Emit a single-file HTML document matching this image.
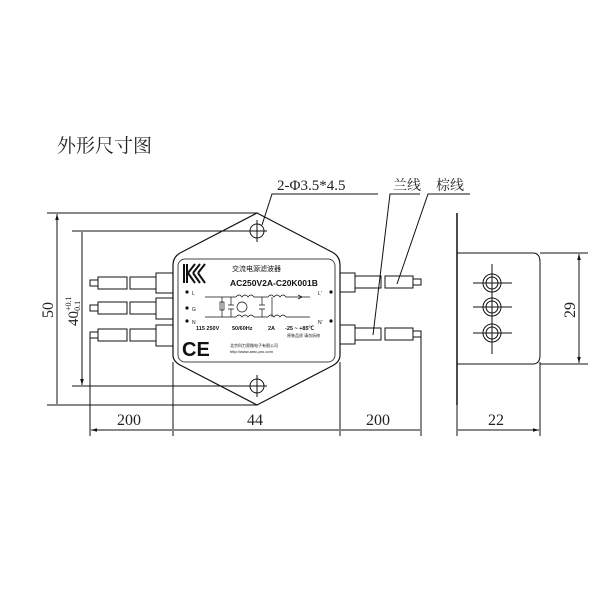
<!DOCTYPE html>
<html><head><meta charset="utf-8"><style>
html,body{margin:0;padding:0;background:#fff;}
svg{display:block}
.t{font-family:"Liberation Serif","Noto Serif CJK SC",serif;fill:#222}
.s{font-family:"Liberation Sans","Noto Sans CJK SC",sans-serif;fill:#111}
</style></head><body>
<svg width="600" height="600" viewBox="0 0 600 600" xmlns="http://www.w3.org/2000/svg">
<defs>
<marker id="a" viewBox="0 0 10 10" refX="10" refY="5" markerWidth="8" markerHeight="6" orient="auto-start-reverse"><path d="M0,2 L10,5 L0,8 z" fill="#111"/></marker>
</defs>
<g stroke="#111" fill="none" stroke-width="1">
<text x="57" y="152" class="t" font-size="19" stroke="none">外形尺寸图</text>
<path d="M257,213 L182,252 Q173,256 173,265 L173,355 Q173,362 182,366 L257,405 L332,366 Q340,362 340,355 L340,265 Q340,256 332,252 Z" stroke-width="1.2"/>
<rect x="178" y="259" width="157" height="103" rx="7" stroke="#444"/>
<circle cx="257" cy="231" r="7"/><path d="M257,220V242M247,231H267"/>
<circle cx="257" cy="386" r="7"/><path d="M257,375V397M247,386H267"/>
<g>
<rect x="156" y="273" width="17" height="20"/><rect x="130" y="277" width="26" height="12"/><rect x="98" y="277" width="29" height="12"/><rect x="90" y="280" width="8" height="6"/>
<rect x="156" y="298" width="17" height="21"/><rect x="130" y="302" width="26" height="12"/><rect x="98" y="302" width="29" height="12"/><rect x="90" y="305" width="8" height="6"/>
<rect x="156" y="325" width="17" height="21"/><rect x="130" y="329" width="26" height="12"/><rect x="98" y="329" width="29" height="12"/><rect x="90" y="332" width="8" height="6"/>
</g>
<rect x="340" y="273" width="15" height="19"/><rect x="355" y="276" width="26" height="12"/><rect x="385" y="276" width="28" height="12"/><rect x="413" y="279" width="8" height="6"/>
<rect x="340" y="325" width="15" height="19"/><rect x="355" y="328" width="26" height="12"/><rect x="385" y="328" width="28" height="12"/><rect x="413" y="331" width="8" height="6"/>
<path d="M47,213H258M47,405H258M72,231H248M72,386H248"/>
<path d="M57,214V404M82,232V385" marker-start="url(#a)" marker-end="url(#a)"/>
<text x="0" y="0" class="t" font-size="16" stroke="none" transform="translate(53,318) rotate(-90)">50</text>
<text x="0" y="0" class="t" font-size="15" stroke="none" transform="translate(78,326) rotate(-90)">40<tspan font-size="8" dy="-7">+0.1</tspan><tspan font-size="8" dx="-17" dy="9">-0.1</tspan></text>
<path d="M90,338V436M173,362V436M340,362V436M421,334V436M457,364V436M540,362V436"/>
<path d="M91,430H172M174,430H339M341,430H420M458,430H539" marker-start="url(#a)" marker-end="url(#a)"/>
<text x="117" y="425" class="t" font-size="16" stroke="none">200</text>
<text x="247" y="425" class="t" font-size="16" stroke="none">44</text>
<text x="366" y="425" class="t" font-size="16" stroke="none">200</text>
<text x="488" y="425" class="t" font-size="16" stroke="none">22</text>
<path d="M378,194H272L262,225"/>
<text x="277" y="190" class="t" font-size="15" stroke="none">2-Φ3.5*4.5</text>
<path d="M420,194H390L373,335"/>
<text x="393" y="190" class="t" font-size="14" stroke="none">兰线</text>
<path d="M470,194H428L397,284"/>
<text x="436" y="190" class="t" font-size="14" stroke="none">棕线</text>
<path d="M457,213V405" stroke-width="1.5"/>
<path d="M457,253H533Q540,253 540,262V355Q540,364 533,364H457"/>
<path d="M540,253H588M540,364H588"/>
<path d="M579,254V363" marker-start="url(#a)" marker-end="url(#a)"/>
<text x="0" y="0" class="t" font-size="16" stroke="none" transform="translate(575,318) rotate(-90)">29</text>
<g>
<circle cx="492" cy="283" r="9"/><circle cx="492" cy="283" r="6"/><path d="M473,283H512M492,264V300"/>
<circle cx="492" cy="307" r="9"/><circle cx="492" cy="307" r="6"/><path d="M473,307H512M492,296V318"/>
<circle cx="492" cy="333" r="9"/><circle cx="492" cy="333" r="6"/><path d="M473,333H512M492,318V354"/>
</g>
<path d="M184,264V283M187,264V283M188,273L195,264M188,273L195,283M193,273L200,264M193,273L200,283M198,273L205,264M198,273L205,283" stroke-width="2"/>
<text x="232" y="271" class="s" font-size="7" stroke="none">交流电源滤波器</text>
<text x="230" y="286" class="s" font-size="8.5" font-weight="bold" stroke="none">AC250V2A-C20K001B</text>
<g fill="#111" stroke="none">
<circle cx="187" cy="292" r="1.6"/><circle cx="187" cy="308" r="1.6"/><circle cx="187" cy="321" r="1.6"/>
<circle cx="331" cy="292" r="1.6"/><circle cx="331" cy="321" r="1.6"/>
<text x="192" y="295" class="s" font-size="5">L</text><text x="192" y="311" class="s" font-size="5">G</text><text x="192" y="324" class="s" font-size="5">N</text>
<text x="318" y="295" class="s" font-size="5">L'</text><text x="318" y="324" class="s" font-size="5">N'</text>
<text x="196" y="330" class="s" font-size="5.5" font-weight="bold">115 250V</text>
<text x="232" y="330" class="s" font-size="5.5" font-weight="bold">50/60Hz</text>
<text x="268" y="330" class="s" font-size="5.5" font-weight="bold">2A</text>
<text x="285" y="330" class="s" font-size="5.5" font-weight="bold">-25 ~ +85℃</text>
<text x="287" y="337" class="s" font-size="4">原装品质 请勿拆修</text>
<text x="230" y="347" class="s" font-size="4">北京科力恩微电子有限公司</text>
<text x="230" y="353" class="s" font-size="4">http://www.amc-pro.com</text>
<text x="182" y="356" class="s" font-size="20" font-weight="bold">CE</text>
</g>
<g stroke-width="0.7">
<path d="M205,297H236M205,317H236M254,297H268M254,317H268M286,297H310M286,317H310"/>
<path d="M236,297q3,-4 6,0q3,-4 6,0q3,-4 6,0M236,317q3,-4 6,0q3,-4 6,0q3,-4 6,0M268,297q3,-4 6,0q3,-4 6,0q3,-4 6,0M268,317q3,-4 6,0q3,-4 6,0q3,-4 6,0"/>
<path d="M222,297V317M231,297V305M231,309V317M228,305H234M228,309H234M262,297V305M262,309V317M259,305H265M259,309H265M272,297V317"/>
<rect x="220" y="302" width="4" height="8"/>
<circle cx="242" cy="307" r="5"/>
<path d="M302,297l-4,-2M302,297l-4,2"/>
</g>
</g>
</svg>
</body></html>
